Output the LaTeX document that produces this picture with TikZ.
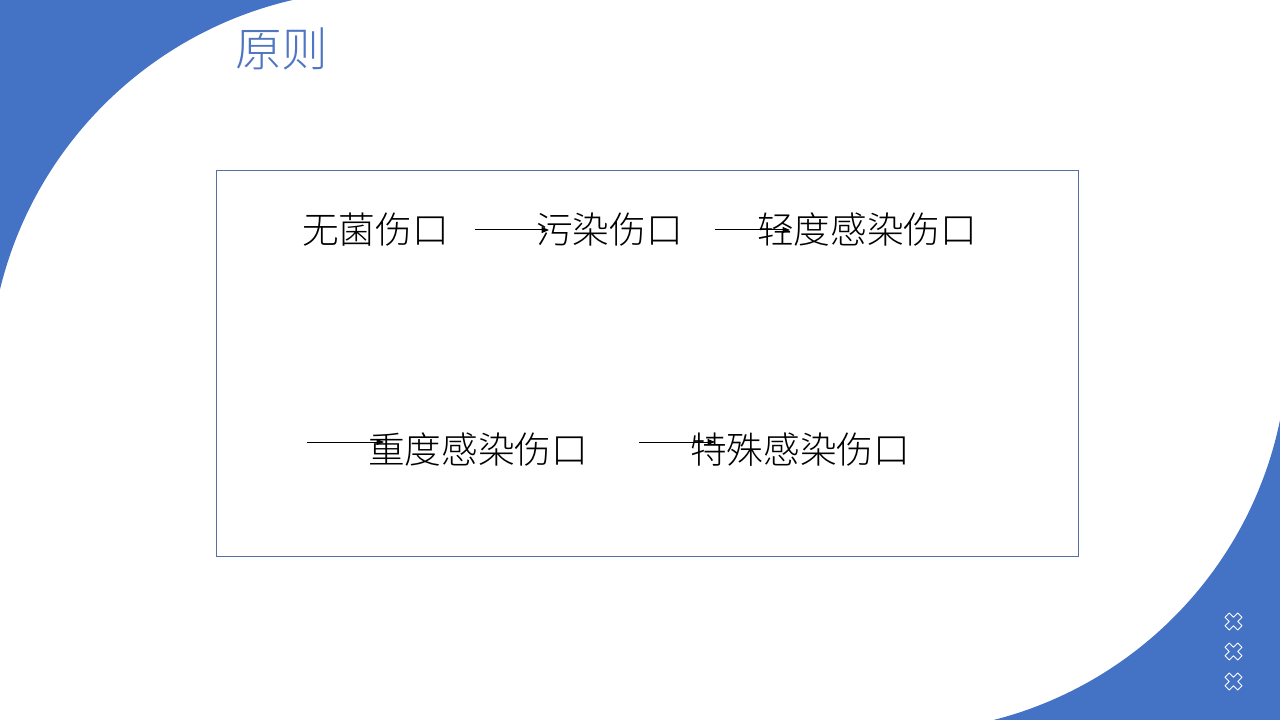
\documentclass[tikz,border=0pt]{standalone}
\usepackage{fontspec}
\newfontfamily\cjk{Noto Sans CJK SC Light}
\usetikzlibrary{arrows.meta,calc}
\definecolor{deckblue}{HTML}{4472C4}
\definecolor{titleblue}{HTML}{4F76C0}
\definecolor{framegray}{HTML}{5470A0}
\tikzset{
>={Triangle[length=5.5pt,width=4.5pt]}, % small solid heads
every node/.style={inner sep=0pt,outer sep=0pt},
wound/.style={anchor=west,font=\cjk\fontsize{27.5}{33}\selectfont},
flow/.style={->,draw=black,line width=0.75pt},
crossmark/.style={draw=white,line width=0.7pt,line join=round}
}

\begin{document}
\begin{tikzpicture}[x=0.75pt,y=-0.75pt]
   \useasboundingbox (0,0) rectangle (1280,720);
   % corner arcs
   \begin{scope}
      \clip (-10,-10) rectangle (420,420);
      \fill[deckblue,even odd rule] (-20,-20) rectangle (440,440) (381,382) circle[radius=294pt];
   \end{scope}
   \begin{scope}
      \clip (860,380) rectangle (1290,730);
      \fill[deckblue,even odd rule] (840,360) rectangle (1300,740) (897,341) circle[radius=293.25pt];
   \end{scope}
   \foreach \cy in {621.5,651.5,681.5}
      \draw[crossmark,shift={(1233.5,\cy)},rotate=45] (-3,-9) -- (3,-9) -- (3,-3) -- (9,-3) -- (9,3) -- (3,3) -- (3,9) -- (-3,9) -- (-3,3) -- (-9,3) -- (-9,-3) -- (-3,-3) -- cycle;
   \node[anchor=west,text=titleblue,font=\cjk\fontsize{35}{40}\selectfont] (title) at (235,49) {原则};
   \draw[framegray,line width=0.75pt] (216,171) rectangle (1078,556);
   \node[wound] (clean)  at (302,230) {无菌伤口};
   \node[wound] (dirty)  at (536,230) {污染伤口};
   \node[wound] (mild)   at (757,230) {轻度感染伤口};
   \node[wound] (severe) at (368,450) {重度感染伤口};
   \node[wound] (special) at (690,450) {特殊感染伤口};
   \coordinate (start) at (307,442);
   \draw[flow] ($(clean.east)+(26,0)$) -- ($(dirty.west)+(13,0)$);
   \draw[flow] ($(dirty.east)+(32,0)$) -- ($(mild.west)+(33,0)$);
   \draw[flow] (start) -- ($(severe.west)+(16,-8)$);
   \draw[flow] ($(severe.east)+(51,-8)$) -- ($(special.west)+(25,-8)$);
\end{tikzpicture}
\end{document}
